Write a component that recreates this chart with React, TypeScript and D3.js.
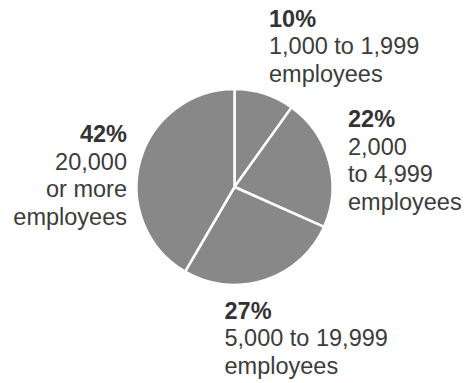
import React from "react";
import * as d3 from "d3";

const categories = ["1,000 to 1,999 employees", "2,000 to 4,999 employees", "5,000 to 19,999 employees", "20,000 or more employees"];
const values = [10, 22, 27, 42];
const percentLabels = ["10%", "22%", "27%", "42%"];
const labelLines = [
  ["1,000 to 1,999", "employees"],
  ["2,000", "to 4,999", "employees"],
  ["5,000 to 19,999", "employees"],
  ["20,000", "or more", "employees"],
];

const W = 466;
const H = 383;
const cx = 234.5;
const cy = 187;
const R = 98;
const FS = 23.5;
const LH = 27.4;

const labelPos: { x: number; y: number; anchor: "start" | "end" }[] = [
  { x: 269, y: 26.7, anchor: "start" },
  { x: 348, y: 127.3, anchor: "start" },
  { x: 224.5, y: 319, anchor: "start" },
  { x: 127, y: 142.3, anchor: "end" },
];

export default function App() {
  const pie = d3.pie<number>().sort(null).value((d) => d);
  const arcs = pie(values);
  const arc = d3.arc<d3.PieArcDatum<number>>().innerRadius(0).outerRadius(R);
  return (
    <svg width={W} height={H} style={{ position: "absolute", left: 0, top: 0 }}>
      <rect width={W} height={H} fill="#fff" />
      <g transform={`translate(${cx},${cy})`}>
        {arcs.map((a, i) => (
          <path key={categories[i]} d={arc(a) || ""} fill="#888888" stroke="#fff" strokeWidth={2.5} strokeLinejoin="round" />
        ))}
      </g>
      {labelPos.map((p, i) => (
        <text key={i} x={p.x} y={p.y} textAnchor={p.anchor} fontFamily="Liberation Sans, Arial, sans-serif" fontSize={FS} fill="#333">
          <tspan x={p.x} fontWeight="bold">{percentLabels[i]}</tspan>
          {labelLines[i].map((l, j) => (
            <tspan key={j} x={p.x} dy={LH} fill="#3c3c3c">{l}</tspan>
          ))}
        </text>
      ))}
    </svg>
  );
}
